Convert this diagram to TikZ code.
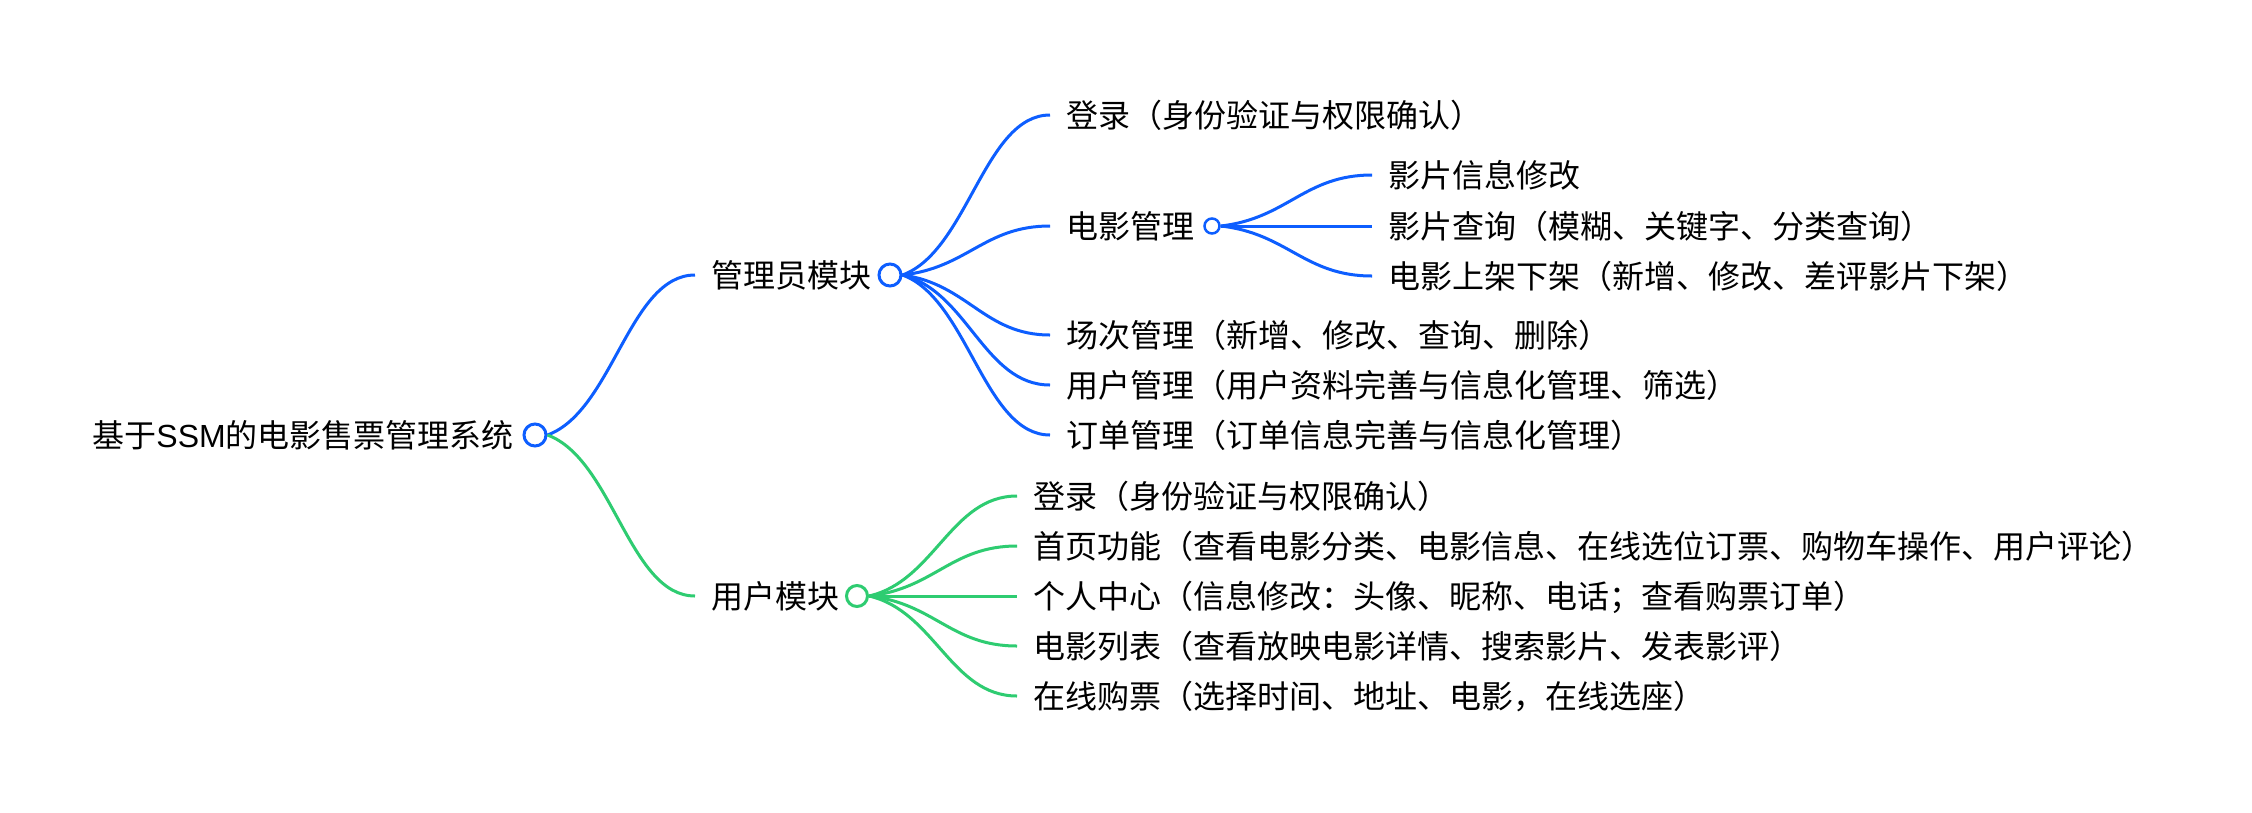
\documentclass[tikz,border=0pt]{standalone}
\usepackage{fontspec}
\setmainfont{Noto Sans CJK SC}
\newfontfamily\latinfont{Liberation Sans}
\usetikzlibrary{calc}
\definecolor{mblue}{HTML}{0D5EFF}
\definecolor{mgreen}{HTML}{2ECC71}
\begin{document}
\begin{tikzpicture}[x=1pt,y=-1pt,
  txt/.style={anchor=west, inner sep=0pt, text height=24pt, text depth=0pt,
    font=\fontsize{32}{36}\selectfont, text=black},
  ring/.style={circle, draw=#1, line width=3pt, fill=white, inner sep=0pt},
  link/.style={draw=#1, line width=3pt, shorten >=16pt,
    to path={let \p1=(\tikztostart), \p2=(\tikztotarget) in
      .. controls ({\x1+0.4*(\x2-\x1)},{\y1+0.15*(\y2-\y1)}) and ({\x1+0.5*(\x2-\x1)},{\y2}) .. (\tikztotarget)}},
]
\useasboundingbox[fill=white] (0,0) rectangle (2252,812);

% root
\node[txt, anchor=east] (root) at (514,435) {基于{\latinfont SSM}的电影售票管理系统};
\node[ring=mblue, minimum size=22pt] (rootc) at (535,435) {};

% first level
\node[txt] (admin) at (711,275) {管理员模块};
\node[ring=mblue, minimum size=22pt] (adminc) at (890,275) {};
\node[txt] (user) at (711,596) {用户模块};
\node[ring=mgreen, minimum size=21pt] (userc) at (857,596) {};

% admin children
\node[txt] (a1) at (1066,115) {登录（身份验证与权限确认）};
\node[txt] (a2) at (1066,226) {电影管理};
\node[ring=mblue, line width=2.5pt, minimum size=15pt] (a2c) at (1212,226) {};
\node[txt] (a3) at (1066,335) {场次管理（新增、修改、查询、删除）};
\node[txt] (a4) at (1066,385) {用户管理（用户资料完善与信息化管理、筛选）};
\node[txt] (a5) at (1066,435) {订单管理（订单信息完善与信息化管理）};

% film children
\node[txt] (f1) at (1388,175) {影片信息修改};
\node[txt] (f2) at (1388,226) {影片查询（模糊、关键字、分类查询）};
\node[txt] (f3) at (1388,276) {电影上架下架（新增、修改、差评影片下架）};

% user children
\node[txt] (u1) at (1033,496) {登录（身份验证与权限确认）};
\node[txt] (u2) at (1033,546) {首页功能（查看电影分类、电影信息、在线选位订票、购物车操作、用户评论）};
\node[txt] (u3) at (1033,596) {个人中心（信息修改：头像、昵称、电话；查看购票订单）};
\node[txt] (u4) at (1033,646) {电影列表（查看放映电影详情、搜索影片、发表影评）};
\node[txt] (u5) at (1033,696) {在线购票（选择时间、地址、电影，在线选座）};

% connectors
\draw[link=mblue] (rootc.east) to (admin.west);
\draw[link=mgreen] (rootc.east) to (user.west);

\foreach \k in {a1,a2,a3,a4,a5}
  \draw[link=mblue] (adminc.east) to (\k.west);
\foreach \k in {f1,f2,f3}
  \draw[link=mblue] (a2c.east) to (\k.west);
\foreach \k in {u1,u2,u3,u4,u5}
  \draw[link=mgreen] (userc.east) to (\k.west);
\end{tikzpicture}
\end{document}
